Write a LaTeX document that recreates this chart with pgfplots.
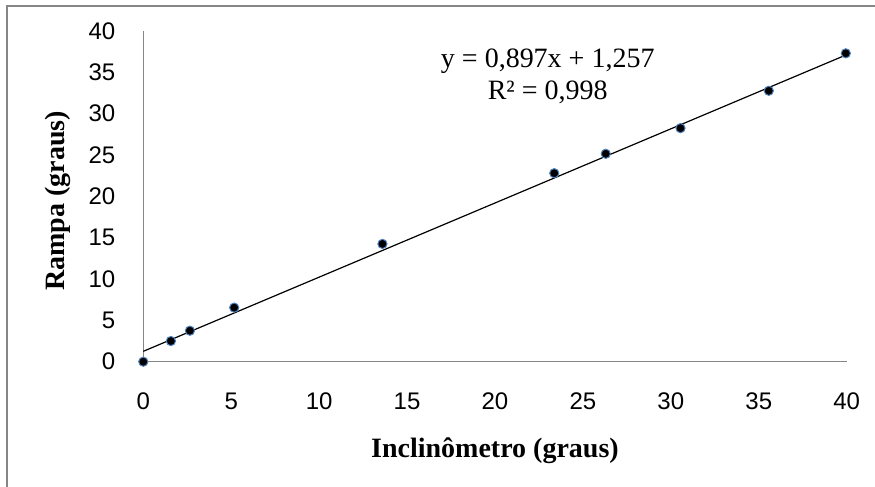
\documentclass[border=0pt]{standalone}
\usepackage{fontspec}
\setmainfont{Liberation Serif}
\newfontfamily\ticksans{Liberation Sans}
\usepackage{pgfplots}
\pgfplotsset{compat=1.18}
\definecolor{axgray}{RGB}{134,134,134}
\definecolor{mkblue}{RGB}{79,129,189}
\begin{document}
\begin{tikzpicture}
\useasboundingbox (0,0) rectangle (437.5pt,-243.5pt);
\draw[axgray, line width=1pt] (3.5pt,-243.5pt) -- (3.5pt,-3.2pt) -- (437.5pt,-3.2pt);
\begin{axis}[
  at={(71.65pt,-180.85pt)}, anchor=south west,
  scale only axis, width=351.7pt, height=165.35pt,
  xmin=0, xmax=40, ymin=0, ymax=40,
  axis x line*=bottom, axis y line*=left,
  axis line style={axgray, line width=0.75pt},
  xtick={0,5,...,40}, ytick={0,5,...,40},
  major tick length=0pt,
  /pgf/number format/assume math mode=true,
  tick label style={font=\ticksans\fontsize{12}{14}\selectfont, text=black},
  yticklabel style={anchor=east, xshift=-10.5pt},
  xticklabel style={anchor=north, yshift=-12pt},
  xlabel={Inclinômetro (graus)},
  ylabel={Rampa (graus)},
  label style={font=\fontsize{14}{16}\selectfont\bfseries},
  xlabel style={at={(axis description cs:0.5,0)}, anchor=center, yshift=-44.6pt},
  ylabel style={at={(axis description cs:0,0.5)}, anchor=center, rotate=0, yshift=42.6pt, xshift=-2.2pt},
  clip=false,
]
\addplot[black, line width=0.6pt, forget plot] coordinates {(0,1.257) (40,37.137)};
\addplot[only marks, mark=*, mark size=2.3pt, mark options={fill=black, draw=mkblue, line width=0.5pt}]
  coordinates {
  (0,0) (1.57,2.5) (2.65,3.75) (5.17,6.54) (13.6,14.25)
  (23.37,22.8) (26.3,25.15) (30.55,28.25) (35.57,32.77) (39.95,37.3)
  };
\node[align=center, font=\fontsize{14}{16}\selectfont, inner sep=0pt] at (axis cs:23,34.55)
  {y = 0,897x + 1,257\\R² = 0,998};
\end{axis}
\end{tikzpicture}
\end{document}
